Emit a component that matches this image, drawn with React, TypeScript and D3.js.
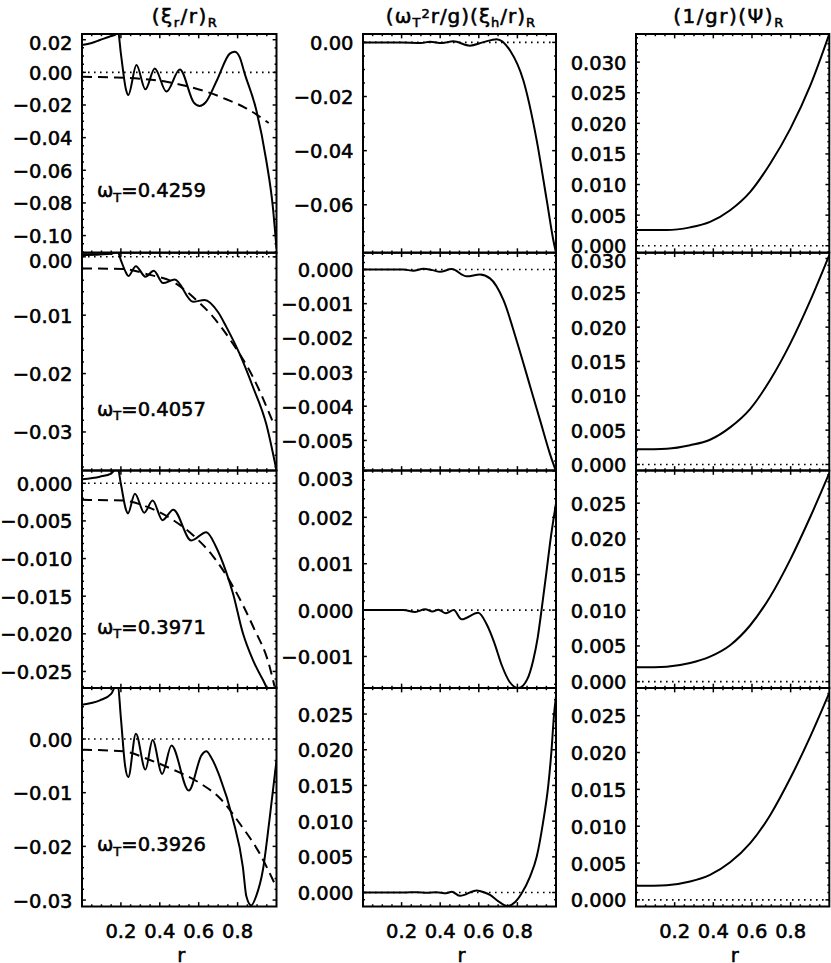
import * as d3 from 'd3';

type Pt = [number, number];

// ---- data ----
const R_TICKS = [0.2, 0.4, 0.6, 0.8];
const OMEGA_T = ['0.4259', '0.4057', '0.3971', '0.3926'];

// column 1: (xi_r / r)_R, solid = full solution, dashed = reference
const XIR_A: Pt[] = [
  [0, 0.0167], [0.05, 0.018], [0.092, 0.0198], [0.14, 0.0218], [0.178, 0.0235], [0.183, 0.027],
  [0.2, 0.0115], [0.226, -0.0105], [0.238, -0.0139], [0.28, 0.0045], [0.326, -0.0104],
  [0.374, 0.0024], [0.434, -0.0118], [0.503, 0.0018], [0.575, -0.0185], [0.605, -0.0206],
  [0.635, -0.0185], [0.695, -0.0045], [0.76, 0.0115], [0.785, 0.0126], [0.81, 0.0095],
  [0.836, -0.0006], [0.896, -0.0231], [0.947, -0.0537], [0.981, -0.0822], [1.0, -0.108],
];
const XIR_A_REF: Pt[] = [
  [0, -0.0027], [0.144, -0.0031], [0.297, -0.0039], [0.434, -0.0057], [0.537, -0.0084],
  [0.639, -0.0118], [0.742, -0.0165], [0.844, -0.022], [0.96, -0.031],
];
const XIR_B: Pt[] = [
  [0, 0.0003], [0.092, 0.0004], [0.15, 0.0005], [0.183, 0.0009], [0.2, -0.0006], [0.226, -0.0027],
  [0.238, -0.0033], [0.277, -0.0016], [0.326, -0.0034], [0.369, -0.0024], [0.417, -0.0045],
  [0.477, -0.0039], [0.571, -0.0077], [0.63, -0.0074], [0.7, -0.0095], [0.742, -0.012],
  [0.81, -0.0166], [0.879, -0.0223], [0.947, -0.0286], [1.0, -0.0366],
];
const XIR_B_REF: Pt[] = [
  [0, -0.002], [0.212, -0.0021], [0.349, -0.0031], [0.468, -0.0043], [0.571, -0.0069],
  [0.674, -0.0103], [0.776, -0.0149], [0.879, -0.0206], [0.99, -0.029],
];
const XIR_C: Pt[] = [
  [0, 0.00053], [0.092, 0.00088], [0.15, 0.0013], [0.183, 0.0021], [0.2, -0.0001], [0.226, -0.0035],
  [0.236, -0.004], [0.272, -0.0014], [0.32, -0.0039], [0.363, -0.0023], [0.414, -0.0049],
  [0.469, -0.0035], [0.562, -0.0076], [0.639, -0.0065], [0.69, -0.0085], [0.74, -0.0117],
  [0.776, -0.0146], [0.827, -0.0199], [0.879, -0.0235], [0.93, -0.0261], [0.965, -0.0276], [1.0, -0.0275],
];
const XIR_C_REF: Pt[] = [
  [0, -0.0022], [0.212, -0.0023], [0.332, -0.0031], [0.469, -0.0049], [0.571, -0.0069],
  [0.674, -0.0097], [0.776, -0.0137], [0.879, -0.019], [0.964, -0.0243], [0.99, -0.027],
];
const XIR_D: Pt[] = [
  [0, 0.0064], [0.092, 0.0072], [0.15, 0.0084], [0.183, 0.0105], [0.2, 0.0039], [0.222, -0.0051],
  [0.238, -0.0071], [0.277, 0.001], [0.326, -0.0057], [0.363, -0.0002], [0.412, -0.0065],
  [0.46, -0.0012], [0.549, -0.0096], [0.615, -0.003], [0.639, -0.0023], [0.665, -0.0035],
  [0.708, -0.007], [0.776, -0.015], [0.827, -0.0238], [0.845, -0.0293], [0.87, -0.031],
  [0.895, -0.0293], [0.93, -0.0244], [0.964, -0.015], [1.0, -0.004],
];
const XIR_D_REF: Pt[] = [
  [0, -0.002], [0.212, -0.0023], [0.349, -0.0039], [0.468, -0.0057], [0.605, -0.0082],
  [0.708, -0.011], [0.81, -0.0157], [0.913, -0.0213], [0.99, -0.0269],
];

// column 2: (omega_T^2 r / g)(xi_h / r)_R
const XIH_A: Pt[] = [
  [0, 0], [0.2, 0], [0.3, -0.0002], [0.347, 0.0002], [0.41, -0.0002], [0.468, 0.0004],
  [0.554, -0.0012], [0.62, 0], [0.693, 0.0012], [0.762, -0.003], [0.831, -0.0141],
  [0.9, -0.0362], [0.952, -0.0583], [0.986, -0.073], [1.0, -0.0777],
];
const XIH_B: Pt[] = [
  [0, 0], [0.209, 0], [0.261, -0.00004], [0.313, 0.00002], [0.36, -0.00002], [0.399, -0.00007],
  [0.459, 0.00001], [0.537, -0.0002], [0.606, -0.00015], [0.658, -0.00026], [0.728, -0.0009],
  [0.797, -0.0021], [0.865, -0.0034], [0.917, -0.0044], [0.969, -0.0054], [1.0, -0.0059],
];
const XIH_C: Pt[] = [
  [0, 0], [0.209, 0], [0.27, -0.00004], [0.322, 0.00002], [0.36, -0.00003], [0.39, 0.00001],
  [0.43, -0.00007], [0.47, 0], [0.511, -0.0002], [0.597, -0.00006], [0.64, -0.0003],
  [0.68, -0.0007], [0.72, -0.0012], [0.76, -0.00155], [0.805, -0.00168], [0.85, -0.0015],
  [0.882, -0.00108], [0.905, -0.0006], [0.925, 0], [0.95, 0.0008], [0.969, 0.00144], [1.0, 0.0023],
];
const XIH_D: Pt[] = [
  [0, 0], [0.209, 0], [0.28, 0.00005], [0.33, -0.00005], [0.38, 0.00005], [0.43, -0.0001],
  [0.46, 0.0001], [0.503, -0.00047], [0.589, 0.00028], [0.63, 0], [0.658, -0.00033],
  [0.7, -0.0012], [0.748, -0.0019], [0.79, -0.0013], [0.82, -0.0002], [0.865, 0.0022],
  [0.9, 0.005], [0.934, 0.01], [0.96, 0.015], [0.977, 0.02], [0.99, 0.025], [1.0, 0.0275],
];

// column 3: (1/gr)(Psi)_R
const PSI_A: Pt[] = [
  [0, 0.00255], [0.159, 0.00255], [0.28, 0.003], [0.383, 0.0039], [0.487, 0.0058],
  [0.591, 0.0088], [0.694, 0.0134], [0.798, 0.0191], [0.902, 0.0262], [1.0, 0.0346],
];
const PSI_B: Pt[] = [
  [0, 0.0022], [0.159, 0.0023], [0.28, 0.0028], [0.383, 0.0036], [0.487, 0.0054],
  [0.591, 0.0081], [0.694, 0.0123], [0.798, 0.0176], [0.902, 0.0239], [1.0, 0.0305],
];
const PSI_C: Pt[] = [
  [0, 0.002], [0.159, 0.0021], [0.28, 0.0026], [0.383, 0.0035], [0.487, 0.0051],
  [0.591, 0.0079], [0.694, 0.0119], [0.798, 0.0171], [0.902, 0.0231], [1.0, 0.0292],
];
const PSI_D: Pt[] = [
  [0, 0.0019], [0.159, 0.002], [0.28, 0.0025], [0.383, 0.0034], [0.487, 0.0051],
  [0.591, 0.0077], [0.694, 0.0115], [0.798, 0.0165], [0.902, 0.0222], [1.0, 0.0281],
];

// y ranges per panel (row-major): [lo, hi], major step, minor divisions, decimals
const Y_AXES: { domain: Pt; step: number; minor: number; digits: number }[] = [
  { domain: [-0.1105, 0.0235], step: 0.02, minor: 4, digits: 2 },
  { domain: [-0.0777, 0.0031], step: 0.02, minor: 4, digits: 2 },
  { domain: [-0.00114, 0.0346], step: 0.005, minor: 5, digits: 3 },
  { domain: [-0.0366, 0.0007], step: 0.01, minor: 5, digits: 2 },
  { domain: [-0.00588, 0.00049], step: 0.001, minor: 5, digits: 3 },
  { domain: [-0.00088, 0.03084], step: 0.005, minor: 5, digits: 3 },
  { domain: [-0.0272, 0.0017], step: 0.005, minor: 5, digits: 3 },
  { domain: [-0.00168, 0.00301], step: 0.001, minor: 5, digits: 3 },
  { domain: [-0.00089, 0.02958], step: 0.005, minor: 5, digits: 3 },
  { domain: [-0.0312, 0.0095], step: 0.01, minor: 5, digits: 2 },
  { domain: [-0.00196, 0.02865], step: 0.005, minor: 5, digits: 3 },
  { domain: [-0.0009, 0.02876], step: 0.005, minor: 5, digits: 3 },
];

const SOLID: Pt[][][] = [
  [XIR_A, XIH_A, PSI_A],
  [XIR_B, XIH_B, PSI_B],
  [XIR_C, XIH_C, PSI_C],
  [XIR_D, XIH_D, PSI_D],
];
const DASHED: Pt[][] = [XIR_A_REF, XIR_B_REF, XIR_C_REF, XIR_D_REF];

// ---- layout ----
const W = 831;
const H = 963;
const COLS: Pt[] = [[82, 276.5], [363, 556], [636, 829.3]];
const ROWS = [34, 252.7, 470.5, 688, 906.5];
const TITLE_X = [185, 461, 729];
const FONT = '"DejaVu Sans", sans-serif';
const FS = 19.5;
const TXT = { stroke: '#000', strokeWidth: 0.55 };

function fmt(v: number, digits: number) {
  const s = Math.abs(v).toFixed(digits);
  return (v < -1e-12 ? '\u2212' : '') + s;
}

function steps(lo: number, hi: number, step: number) {
  const a = Math.ceil(lo / step - 1e-6);
  const b = Math.floor(hi / step + 1e-6);
  return d3.range(a, b + 1);
}

function Panel({ row, col }: { row: number; col: number }) {
  const [x0, x1] = COLS[col];
  const y0 = ROWS[row];
  const y1 = ROWS[row + 1];
  const ax = Y_AXES[row * 3 + col];
  const x = d3.scaleLinear().domain([0, 1]).range([x0, x1]);
  const y = d3.scaleLinear().domain(ax.domain).range([y1, y0]);
  const line = d3.line<Pt>().x((d) => x(d[0])).y((d) => y(d[1])).curve(d3.curveMonotoneX);
  const clipId = `clip-${row}-${col}`;

  const majTx = 0.02 * (y1 - y0);
  const majTy = 0.02 * (x1 - x0);

  const xMinor = steps(0, 1, 0.05).map((i) => i * 0.05).filter((v) => v > 0.001 && v < 0.999);
  const yMajorIdx = steps(ax.domain[0], ax.domain[1], ax.step);
  const ms = ax.step / ax.minor;
  const yMinorIdx = steps(ax.domain[0], ax.domain[1], ms).filter((i) => i % ax.minor !== 0);

  const tickStroke = { stroke: '#000', strokeWidth: 1.5 };

  return (
    <g>
      <defs>
        <clipPath id={clipId}>
          <rect x={x0} y={y0} width={x1 - x0} height={y1 - y0} />
        </clipPath>
      </defs>
      <g clipPath={`url(#${clipId})`}>
        <line x1={x0} x2={x1} y1={y(0)} y2={y(0)} stroke="#000" strokeWidth={1.6}
          strokeDasharray="1.6,4.4" />
        {col === 0 && (
          <path d={line(DASHED[row]) ?? ''} fill="none" stroke="#000" strokeWidth={2}
            strokeDasharray="10,6" />
        )}
        <path d={line(SOLID[row][col]) ?? ''} fill="none" stroke="#000" strokeWidth={2} />
      </g>
      {/* x ticks, top and bottom */}
      {xMinor.map((v) => {
        const isMajor = R_TICKS.some((t) => Math.abs(t - v) < 1e-6);
        const len = isMajor ? majTx : majTx / 2;
        return (
          <g key={`xt${v}`}>
            <line x1={x(v)} x2={x(v)} y1={y1} y2={y1 - len} {...tickStroke} />
            <line x1={x(v)} x2={x(v)} y1={y0} y2={y0 + len} {...tickStroke} />
          </g>
        );
      })}
      {/* y ticks, left and right */}
      {yMajorIdx.map((i) => {
        const v = i * ax.step;
        return (
          <g key={`yt${i}`}>
            <line x1={x0} x2={x0 + majTy} y1={y(v)} y2={y(v)} {...tickStroke} />
            <line x1={x1} x2={x1 - majTy} y1={y(v)} y2={y(v)} {...tickStroke} />
          </g>
        );
      })}
      {yMinorIdx.map((i) => {
        const v = i * ms;
        return (
          <g key={`ym${i}`}>
            <line x1={x0} x2={x0 + majTy / 2} y1={y(v)} y2={y(v)} {...tickStroke} />
            <line x1={x1} x2={x1 - majTy / 2} y1={y(v)} y2={y(v)} {...tickStroke} />
          </g>
        );
      })}
      <rect x={x0} y={y0} width={x1 - x0} height={y1 - y0} fill="none" stroke="#000" strokeWidth={2} />
      {/* y labels */}
      {yMajorIdx.map((i) => {
        const v = i * ax.step;
        const cy = Math.max(y(v), y0 + 8);
        return (
          <text key={`yl${i}`} x={x0 - 9.5} y={cy + 7.5} textAnchor="end" fontSize={FS} {...TXT}>
            {fmt(v, ax.digits)}
          </text>
        );
      })}
      {/* x labels on bottom row */}
      {row === 3 &&
        R_TICKS.map((t) => (
          <text key={`xl${t}`} x={x(t)} y={938} textAnchor="middle" fontSize={FS} {...TXT}>
            {t.toFixed(1)}
          </text>
        ))}
      {row === 3 && (
        <text x={(x0 + x1) / 2 + 2} y={962} textAnchor="middle" fontSize={FS} {...TXT}>r</text>
      )}
      {col === 0 && (
        <text x={97} y={y0 + 163} fontSize={FS} {...TXT}>
          ω<tspan fontSize={13} dy={4.5}>T</tspan>
          <tspan dy={-4.5}>={OMEGA_T[row]}</tspan>
        </text>
      )}
    </g>
  );
}

export default function App() {
  const panels: { row: number; col: number }[] = [];
  for (let r = 0; r < 4; r++) for (let c = 0; c < 3; c++) panels.push({ row: r, col: c });
  return (
    <svg width={W} height={H} viewBox={`0 0 ${W} ${H}`}
      style={{ position: 'absolute', left: 0, top: 0, background: '#fff' }}
      fontFamily={FONT} fill="#000">
      <rect width={W} height={H} fill="#fff" />
      {panels.map((p) => <Panel key={`${p.row}-${p.col}`} row={p.row} col={p.col} />)}
      {/* column titles */}
      <text x={TITLE_X[0]} y={23} textAnchor="middle" fontSize={20} letterSpacing={1.5} {...TXT}>
        (ξ<tspan fontSize={13} dy={4}>r</tspan>
        <tspan dy={-4}>/r)</tspan>
        <tspan fontSize={13} dy={4}>R</tspan>
      </text>
      <text x={TITLE_X[1]} y={23} textAnchor="middle" fontSize={20} letterSpacing={1} {...TXT}>
        (ω<tspan fontSize={13} dy={4}>T</tspan>
        <tspan fontSize={13} dy={-9}>2</tspan>
        <tspan dy={5}>r/g)(ξ</tspan>
        <tspan fontSize={13} dy={4}>h</tspan>
        <tspan dy={-4}>/r)</tspan>
        <tspan fontSize={13} dy={4}>R</tspan>
      </text>
      <text x={TITLE_X[2]} y={23} textAnchor="middle" fontSize={20} letterSpacing={1.5} {...TXT}>
        (1/gr)(Ψ)<tspan fontSize={13} dy={4}>R</tspan>
      </text>
    </svg>
  );
}
